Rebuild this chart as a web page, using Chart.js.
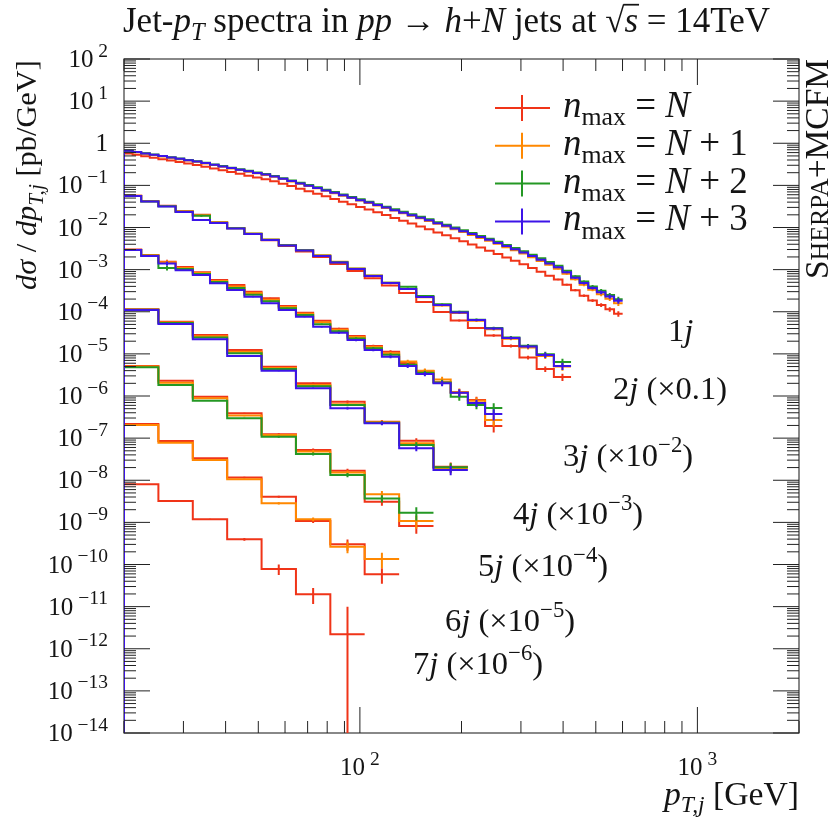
<!DOCTYPE html>
<html>
<head>
<meta charset="utf-8">
<script src="https://cdn.jsdelivr.net/npm/chart.js@4.4.1/dist/chart.umd.min.js"></script>
<style>
  html, body { margin: 0; padding: 0; background: #fff; }
  canvas { display: block; }
</style>
</head>
<body>
<canvas id="jetChart" width="831" height="818"></canvas>
<script>
(function () {
    // bin edges (GeV)
    const fineEdges = [20, 21.21, 22.49, 23.85, 25.29, 26.82, 28.44, 30.16, 31.98, 33.91,
        35.96, 38.13, 40.43, 42.88, 45.47, 48.21, 51.13, 54.21, 57.49, 60.96,
        64.64, 68.55, 72.69, 77.08, 81.73, 86.67, 91.91, 97.46, 103.3, 109.6,
        116.2, 123.2, 130.7, 138.6, 146.9, 155.8, 165.2, 175.2, 185.8, 197.0,
        208.9, 221.5, 234.9, 249.1, 264.2, 280.1, 297.0, 315.0, 334.0, 354.2,
        375.6, 398.3, 422.3, 447.8, 474.9, 503.6, 534.0, 566.3, 600.5];
    const mediumEdges = [20, 22.49, 25.29, 28.44, 31.98, 35.96, 40.43, 45.47, 51.13, 57.49,
        64.64, 72.69, 81.73, 91.91, 103.3, 116.2, 130.7, 146.9, 165.2, 185.8,
        208.9, 234.9, 264.2, 297.0, 334.0, 375.6, 422.3];
    const coarseEdges = [20, 25.29, 31.98, 40.43, 51.13, 64.64, 81.73, 103.3, 130.7, 165.2, 208.9];

    const seriesNames = ['N', 'N + 1', 'N + 2', 'N + 3'];
    const seriesColors = ['rgb(240,52,24)', 'rgb(255,136,0)', 'rgb(36,152,36)', 'rgb(60,20,232)'];
    const jetNames = ['1', '2', '3', '4', '5', '6', '7'];
    const jetScale = [1, 0.1, 1e-2, 1e-3, 1e-4, 1e-5, 1e-6];

    // dsigma/dpT [pb/GeV], unscaled
    const oneJetN0 = [0.573, 0.531, 0.489, 0.454, 0.417, 0.387, 0.357, 0.329, 0.305, 0.277,
        0.253, 0.228, 0.207, 0.188, 0.170, 0.154, 0.140, 0.125, 0.110, 0.0961,
        0.0831, 0.0727, 0.0633, 0.0549, 0.0476, 0.0410, 0.0355, 0.0307, 0.0266, 0.0229,
        0.0197, 0.0168, 0.0144, 0.0124, 0.0106, 9.06e-3, 7.66e-3, 6.52e-3, 5.53e-3, 4.71e-3,
        3.96e-3, 3.33e-3, 2.82e-3, 2.35e-3, 1.94e-3, 1.62e-3, 1.34e-3, 1.10e-3, 8.88e-4, 7.18e-4,
        5.81e-4, 4.39e-4, 3.25e-4, 2.40e-4, 1.84e-4, 1.45e-4, 1.14e-4, 8.94e-5];
    const oneJetN1 = [0.652, 0.608, 0.563, 0.524, 0.485, 0.452, 0.419, 0.388, 0.362, 0.331,
        0.304, 0.276, 0.253, 0.231, 0.212, 0.193, 0.176, 0.160, 0.141, 0.124,
        0.109, 0.0962, 0.0850, 0.0745, 0.0654, 0.0569, 0.0500, 0.0436, 0.0382, 0.0333,
        0.0290, 0.0252, 0.0218, 0.0191, 0.0166, 0.0143, 0.0123, 0.0106, 9.12e-3, 7.85e-3,
        6.67e-3, 5.67e-3, 4.85e-3, 4.09e-3, 3.42e-3, 2.87e-3, 2.40e-3, 1.98e-3, 1.60e-3, 1.30e-3,
        1.05e-3, 7.94e-4, 5.88e-4, 4.35e-4, 3.32e-4, 2.60e-4, 2.04e-4, 1.60e-4];
    const oneJetN2 = [0.668, 0.624, 0.578, 0.540, 0.500, 0.466, 0.433, 0.401, 0.374, 0.343,
        0.315, 0.287, 0.263, 0.241, 0.221, 0.202, 0.185, 0.168, 0.148, 0.131,
        0.115, 0.102, 0.0902, 0.0792, 0.0695, 0.0606, 0.0533, 0.0466, 0.0409, 0.0357,
        0.0312, 0.0271, 0.0236, 0.0206, 0.0180, 0.0156, 0.0134, 0.0116, 0.0100, 8.65e-3,
        7.38e-3, 6.30e-3, 5.42e-3, 4.59e-3, 3.86e-3, 3.26e-3, 2.74e-3, 2.27e-3, 1.85e-3, 1.51e-3,
        1.23e-3, 9.35e-4, 6.96e-4, 5.19e-4, 3.99e-4, 3.16e-4, 2.50e-4, 1.98e-4];
    const oneJetN3 = [0.665, 0.620, 0.574, 0.535, 0.495, 0.461, 0.428, 0.396, 0.369, 0.338,
        0.310, 0.282, 0.258, 0.236, 0.216, 0.197, 0.180, 0.163, 0.144, 0.127,
        0.111, 0.0982, 0.0867, 0.0760, 0.0667, 0.0581, 0.0510, 0.0445, 0.0390, 0.0340,
        0.0297, 0.0258, 0.0224, 0.0196, 0.0171, 0.0148, 0.0127, 0.0110, 9.47e-3, 8.17e-3,
        6.97e-3, 5.94e-3, 5.10e-3, 4.31e-3, 3.62e-3, 3.05e-3, 2.56e-3, 2.12e-3, 1.72e-3, 1.40e-3,
        1.14e-3, 8.65e-4, 6.43e-4, 4.79e-4, 3.68e-4, 2.91e-4, 2.30e-4, 1.82e-4];
    const oneJetErr = [0.004, 0.004, 0.004, 0.004, 0.004, 0.004, 0.004, 0.004, 0.004, 0.004,
        0.004, 0.004, 0.004, 0.004, 0.004, 0.004, 0.004, 0.004, 0.004, 0.004,
        0.004, 0.004, 0.004, 0.004, 0.004, 0.004, 0.004, 0.004, 0.004, 0.004,
        0.004, 0.004, 0.004, 0.004, 0.004, 0.004, 0.004, 0.004, 0.004, 0.004,
        0.006, 0.007, 0.008, 0.01, 0.012, 0.015, 0.018, 0.02, 0.025, 0.03,
        0.04, 0.05, 0.06, 0.07, 0.08, 0.1, 0.12, 0.15];

    const twoJetN0 = [0.565, 0.426, 0.328, 0.242, 0.200, 0.132, 0.0965, 0.0701, 0.0500, 0.0363,
        0.0270, 0.0200, 0.0136, 9.24e-3, 6.23e-3, 4.22e-3, 2.79e-3, 1.70e-3, 9.89e-4, 6.20e-4,
        4.12e-4, 2.73e-4, 1.54e-4, 8.22e-5, 4.37e-5, 2.82e-5];
    const twoJetN1 = [0.565, 0.420, 0.322, 0.240, 0.196, 0.133, 0.0975, 0.0725, 0.0522, 0.0386,
        0.0294, 0.0218, 0.0153, 0.0106, 7.25e-3, 4.90e-3, 3.45e-3, 2.20e-3, 1.40e-3, 9.30e-4,
        6.10e-4, 3.85e-4, 2.30e-4, 1.42e-4, 8.90e-5, 5.00e-5];
    const twoJetN2 = [0.562, 0.416, 0.318, 0.236, 0.190, 0.130, 0.0955, 0.0710, 0.0512, 0.0378,
        0.0290, 0.0214, 0.0150, 0.0105, 7.15e-3, 4.90e-3, 3.92e-3, 2.35e-3, 1.50e-3, 1.00e-3,
        6.50e-4, 4.10e-4, 2.45e-4, 1.55e-4, 9.80e-5, 6.40e-5];
    const twoJetN3 = [0.560, 0.414, 0.315, 0.233, 0.151, 0.128, 0.0946, 0.0701, 0.0505, 0.0374,
        0.0285, 0.0211, 0.0148, 0.0103, 7.06e-3, 4.81e-3, 3.47e-3, 2.24e-3, 1.45e-3, 9.59e-4,
        6.37e-4, 4.00e-4, 2.38e-4, 1.50e-4, 9.40e-5, 5.15e-5];
    const twoJetErr = [0.008, 0.008, 0.008, 0.008, 0.05, 0.008, 0.008, 0.008, 0.008, 0.008,
        0.008, 0.015, 0.02, 0.02, 0.025, 0.03, 0.035, 0.04, 0.045, 0.05,
        0.06, 0.07, 0.08, 0.1, 0.15, 0.2];

    const threeJetN0 = [0.300, 0.222, 0.154, 0.116, 0.0863, 0.0567, 0.0431, 0.0300, 0.0209, 0.0137,
        9.50e-3, 6.13e-3, 3.96e-3, 2.65e-3, 1.54e-3, 1.13e-3, 6.07e-4, 3.92e-4, 2.11e-4, 1.20e-4,
        8.03e-5, 1.94e-5];
    const threeJetN1 = [0.292, 0.218, 0.150, 0.110, 0.0827, 0.0537, 0.0398, 0.0277, 0.0193, 0.0129,
        8.95e-3, 5.65e-3, 3.73e-3, 2.50e-3, 1.45e-3, 1.04e-3, 6.55e-4, 4.00e-4, 2.48e-4, 1.25e-4,
        7.70e-5, 2.69e-5];
    const threeJetN2 = [0.292, 0.214, 0.109, 0.104, 0.0790, 0.0510, 0.0365, 0.0254, 0.0177, 0.0121,
        8.40e-3, 5.05e-3, 3.45e-3, 2.33e-3, 1.36e-3, 9.55e-4, 5.50e-4, 3.55e-4, 2.10e-4, 9.60e-5,
        6.10e-5, 5.19e-5];
    const threeJetN3 = [0.292, 0.210, 0.140, 0.0965, 0.0745, 0.0473, 0.0328, 0.0228, 0.0159, 0.0110,
        7.63e-3, 4.42e-3, 3.18e-3, 2.13e-3, 1.24e-3, 8.57e-4, 5.15e-4, 3.33e-4, 2.00e-4, 1.20e-4,
        6.82e-5, 3.74e-5];
    const threeJetErr = [0.01, 0.01, 0.12, 0.015, 0.02, 0.02, 0.02, 0.025, 0.03, 0.03,
        0.035, 0.04, 0.05, 0.06, 0.07, 0.08, 0.1, 0.12, 0.15, 0.2,
        0.2, 0.3];

    const fourJetN0 = [0.114, 0.0579, 0.0281, 0.0124, 4.97e-3, 2.00e-3, 7.33e-4, 2.45e-4, 8.68e-5, 2.10e-5];
    const fourJetN1 = [0.112, 0.0555, 0.0262, 0.0112, 4.60e-3, 1.82e-3, 6.40e-4, 2.38e-4, 7.60e-5, 1.95e-5];
    const fourJetN2 = [0.111, 0.0540, 0.0245, 0.0103, 4.35e-3, 1.70e-3, 6.10e-4, 2.32e-4, 6.90e-5, 2.03e-5];
    const fourJetN3 = [0.110, 0.0512, 0.0222, 8.91e-3, 3.99e-3, 1.52e-3, 5.11e-4, 2.25e-4, 5.73e-5, 1.75e-5];
    const fourJetErr = [0.01, 0.01, 0.015, 0.02, 0.03, 0.04, 0.06, 0.1, 0.15, 0.25];

    const fiveJetN0 = [0.0516, 0.0230, 9.62e-3, 3.89e-3, 1.24e-3, 5.23e-4, 1.68e-4, 3.10e-5, 8.21e-6];
    const fiveJetN1 = [0.0499, 0.0206, 8.86e-3, 3.43e-3, 1.19e-3, 4.81e-4, 1.52e-4, 4.64e-5, 1.08e-5];
    const fiveJetN2 = [0.0480, 0.0182, 7.73e-3, 2.96e-3, 1.08e-3, 4.20e-4, 1.33e-4, 3.69e-5, 1.70e-5];
    const fiveJetErr = [0.01, 0.015, 0.02, 0.03, 0.05, 0.08, 0.12, 0.2, 0.35];

    const sixJetN0 = [0.0216, 8.55e-3, 3.32e-3, 1.16e-3, 4.07e-4, 1.08e-4, 3.01e-5, 5.85e-6];
    const sixJetN1 = [0.0205, 7.80e-3, 3.03e-3, 1.05e-3, 2.84e-4, 1.18e-4, 2.65e-5, 1.35e-5];
    const sixJetErr = [0.01, 0.015, 0.02, 0.04, 0.06, 0.1, 0.3, 0.4];

    const sevenJetN0 = [8.02e-3, 3.21e-3, 1.18e-3, 3.96e-4, 7.82e-5, 1.96e-5, 2.20e-6];
    const sevenJetErr = [0.01, 0.02, 0.04, 0.08, 0.28, 0.41, 3.5];

    const histograms = [
        {edges: fineEdges, series: [oneJetN0, oneJetN1, oneJetN2, oneJetN3], err: oneJetErr},
        {edges: mediumEdges, series: [twoJetN0, twoJetN1, twoJetN2, twoJetN3], err: twoJetErr},
        {edges: mediumEdges, series: [threeJetN0, threeJetN1, threeJetN2, threeJetN3], err: threeJetErr},
        {edges: coarseEdges, series: [fourJetN0, fourJetN1, fourJetN2, fourJetN3], err: fourJetErr},
        {edges: coarseEdges, series: [fiveJetN0, fiveJetN1, fiveJetN2], err: fiveJetErr},
        {edges: coarseEdges, series: [sixJetN0, sixJetN1], err: sixJetErr},
        {edges: coarseEdges, series: [sevenJetN0], err: sevenJetErr}
    ];

    const X_MIN = 20, X_MAX = 2000, Y_MIN = 1e-14, Y_MAX = 1e2;
    const SERIF = '"Liberation Serif", "DejaVu Serif", serif';
    const INK = '#141414';

    // where the multiplicity labels sit (left x, baseline y)
    const jetLabelPos = [[668, 341], [613, 399], [563, 466], [513, 524], [478, 576], [445, 631], [413, 674]];

    const datasets = [];
    histograms.forEach((h, m) => {
        const f = jetScale[m];
        h.series.forEach((vals, s) => {
            const pts = [{x: h.edges[0], y: Y_MIN * 1e-6}];
            vals.forEach((v, i) => pts.push({x: h.edges[i], y: v * f}));
            pts.push({x: h.edges[vals.length], y: vals[vals.length - 1] * f});
            datasets.push({
                label: jetNames[m] + 'j, nmax = ' + seriesNames[s],
                data: pts,
                borderColor: seriesColors[s],
                borderWidth: 2,
                stepped: 'before',
                pointRadius: 0,
                fill: false,
                order: 3 - s,
                errorBars: vals.map((v, i) => ({
                    x: Math.sqrt(h.edges[i] * h.edges[i + 1]),
                    y: v * f,
                    e: h.err[i] * v * f
                }))
            });
        });
    });

    // --- text helpers: runs of roman / italic / sub / sup text ---
    const measureRuns = (ctx, runs, size) => {
        let w = 0;
        const items = runs.map(r => {
            const k = r.k || ((r.sub || r.sup) ? 0.7 : (r.caps ? 0.77 : 1));
            const fs = size * k;
            ctx.font = (r.it ? 'italic ' : '') + fs.toFixed(2) + 'px ' + SERIF;
            const tw = ctx.measureText(r.t).width;
            const dy = r.sub ? size * 0.22 : (r.sup ? -size * 0.42 : 0);
            const it = {r, font: ctx.font, x: w, dy, w: tw, fs};
            w += tw;
            return it;
        });
        return {items, width: w};
    };

    const drawRuns = (ctx, runs, size, x, y, align, rot) => {
        const m = measureRuns(ctx, runs, size);
        const x0 = align === 'right' ? -m.width : (align === 'center' ? -m.width / 2 : 0);
        ctx.save();
        ctx.translate(x, y);
        if (rot) ctx.rotate(rot);
        ctx.fillStyle = INK;
        ctx.textAlign = 'left';
        ctx.textBaseline = 'alphabetic';
        m.items.forEach(it => {
            ctx.font = it.font;
            ctx.fillText(it.r.t, x0 + it.x, it.dy);
            if (it.r.over) {
                ctx.strokeStyle = INK;
                ctx.lineWidth = size * 0.05;
                ctx.beginPath();
                ctx.moveTo(x0 + it.x - 1, -size * 0.78);
                ctx.lineTo(x0 + it.x + it.w + 1, -size * 0.78);
                ctx.stroke();
            }
        });
        ctx.restore();
        return m.width;
    };

    const fitSize = (ctx, runs, width) => 20 * width / measureRuns(ctx, runs, 20).width;

    const powerRuns = (e) => e === 0 ? [{t: '1'}] :
        [{t: '10'}, {t: ' ' + (e < 0 ? '\u2212' + (-e) : String(e)), sup: true, k: 0.78}];

    const legendRuns = (name) => {
        const parts = name.split(' + ');
        const runs = [{t: 'n', it: true}, {t: 'max', sub: true}, {t: ' = '}, {t: 'N', it: true}];
        if (parts[1]) runs.push({t: ' + ' + parts[1]});
        return runs;
    };

    const jetLabelRuns = (m) => {
        const runs = [{t: jetNames[m]}, {t: 'j', it: true}];
        const f = jetScale[m];
        if (f === 1) return runs;
        const e = Math.round(Math.log10(f));
        if (e === -1) runs.push({t: ' (\u00d70.1)'});
        else runs.push({t: ' (\u00d710'}, {t: '\u2212' + (-e), sup: true}, {t: ')'});
        return runs;
    };

    const framePlugin = {
        id: 'frame',
        beforeDatasetsDraw(chart) {
            const {ctx, chartArea: a} = chart;
            ctx.save();
            ctx.strokeStyle = '#3a3a3a';
            ctx.lineWidth = 1.2;
            ctx.strokeRect(a.left, a.top, a.right - a.left, a.bottom - a.top);
            ctx.restore();
        },
        afterDatasetDraw(chart, args) {
            const ds = chart.data.datasets[args.index];
            const {ctx, chartArea: a, scales: {x, y}} = chart;
            ctx.save();
            ctx.beginPath();
            ctx.rect(a.left, a.top, a.right - a.left, a.bottom - a.top);
            ctx.clip();
            ctx.strokeStyle = ds.borderColor;
            ctx.lineWidth = 2;
            ctx.beginPath();
            ds.errorBars.forEach(p => {
                const px = x.getPixelForValue(p.x);
                const lo = p.y - p.e > 0 ? p.y - p.e : y.min * 1e-3;
                ctx.moveTo(px, y.getPixelForValue(p.y + p.e));
                ctx.lineTo(px, y.getPixelForValue(lo));
            });
            ctx.stroke();
            ctx.restore();
        },
        afterDraw(chart) {
            const {ctx, chartArea: a, scales: {x, y}} = chart;
            ctx.save();

            // inward ticks on all four sides
            ctx.strokeStyle = '#222';
            ctx.lineWidth = 1;
            ctx.beginPath();
            for (let e = Math.log10(Y_MIN); e <= Math.log10(Y_MAX); e++) {
                for (let k = 1; k <= 9; k++) {
                    const v = k * Math.pow(10, e);
                    if (v > Y_MAX * 1.001) break;
                    const py = y.getPixelForValue(v);
                    const len = k === 1 ? 26 : 12;
                    ctx.moveTo(a.left, py); ctx.lineTo(a.left + len, py);
                    ctx.moveTo(a.right, py); ctx.lineTo(a.right - len, py);
                }
            }
            for (let e = 1; e <= 3; e++) {
                for (let k = 1; k <= 9; k++) {
                    const v = k * Math.pow(10, e);
                    if (v < X_MIN * 0.999 || v > X_MAX * 1.001) continue;
                    const px = x.getPixelForValue(v);
                    const len = k === 1 ? 26 : 12;
                    ctx.moveTo(px, a.bottom); ctx.lineTo(px, a.bottom - len);
                    ctx.moveTo(px, a.top); ctx.lineTo(px, a.top + len);
                }
            }
            ctx.stroke();

            // tick labels
            for (let e = Math.log10(Y_MAX); e >= Math.log10(Y_MIN); e--) {
                drawRuns(ctx, powerRuns(e), 25, a.left - 16, y.getPixelForValue(Math.pow(10, e)) + 8, 'right');
            }
            [2, 3].forEach(e => {
                drawRuns(ctx, powerRuns(e), 25, x.getPixelForValue(Math.pow(10, e)), a.bottom + 42, 'center');
            });

            // title and axis titles
            const title = [{t: 'Jet-'}, {t: 'p', it: true}, {t: 'T', it: true, sub: true}, {t: ' spectra in '},
                {t: 'pp', it: true}, {t: ' \u2192 '}, {t: 'h', it: true}, {t: '+'}, {t: 'N', it: true},
                {t: ' jets at '}, {t: '\u221a'}, {t: 's', it: true, over: true}, {t: ' = 14TeV'}];
            drawRuns(ctx, title, fitSize(ctx, title, 647), 123, 32, 'left');

            const yTitle = [{t: 'd\u03c3', it: true}, {t: ' / '}, {t: 'dp', it: true},
                {t: 'T,j', it: true, sub: true}, {t: ' [pb/GeV]'}];
            drawRuns(ctx, yTitle, fitSize(ctx, yTitle, 230), 36, 175, 'center', -Math.PI / 2);

            const xTitle = [{t: 'p', it: true}, {t: 'T,j', it: true, sub: true}, {t: ' [GeV]'}];
            drawRuns(ctx, xTitle, fitSize(ctx, xTitle, 135), a.right, a.bottom + 72, 'right');

            const tag = [{t: 'S'}, {t: 'HERPA', caps: true}, {t: '+MCFM'}];
            drawRuns(ctx, tag, fitSize(ctx, tag, 220), a.right + 29, a.top, 'right', -Math.PI / 2);

            // legend
            const legSize = fitSize(ctx, legendRuns(seriesNames[0]), 127);
            seriesNames.forEach((name, s) => {
                const ly = 108 + s * 37.8;
                ctx.strokeStyle = seriesColors[s];
                ctx.lineWidth = 2;
                ctx.beginPath();
                ctx.moveTo(495, ly); ctx.lineTo(550, ly);
                ctx.moveTo(522, ly - 13); ctx.lineTo(522, ly + 13);
                ctx.stroke();
                drawRuns(ctx, legendRuns(name), legSize, 563, ly + 9, 'left');
            });

            // multiplicity labels
            const labSize = fitSize(ctx, jetLabelRuns(1), 114);
            jetLabelPos.forEach(([lx, ly], m) => drawRuns(ctx, jetLabelRuns(m), labSize, lx, ly, 'left'));

            ctx.restore();
        }
    };

    new Chart(document.getElementById('jetChart').getContext('2d'), {
        type: 'line',
        data: {datasets},
        options: {
            responsive: false,
            animation: false,
            events: [],
            layout: {padding: {left: 124, right: 32, top: 59, bottom: 85}},
            scales: {
                x: {type: 'logarithmic', min: X_MIN, max: X_MAX, display: false},
                y: {type: 'logarithmic', min: Y_MIN, max: Y_MAX, display: false}
            },
            plugins: {
                legend: {display: false},
                tooltip: {enabled: false}
            }
        },
        plugins: [framePlugin]
    });
})();
</script>
</body>
</html>
